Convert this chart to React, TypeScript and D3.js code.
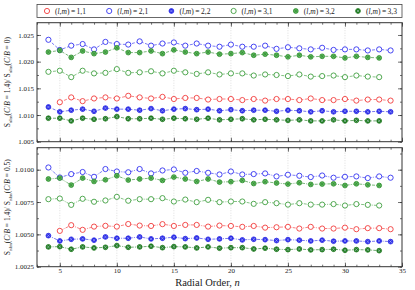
import React, { useEffect, useRef } from 'react'
import * as d3 from 'd3'

// radial order n, shared by every series
const radialOrder = [4, 5, 6, 7, 8, 9, 10, 11, 12, 13, 14, 15, 16, 17, 18, 19, 20, 21, 22, 23, 24, 25, 26, 27, 28, 29, 30, 31, 32, 33, 34]

// top panel: S(C/B=1.4) / S(C/B=0)
const topL1M1 = [null, 1.0124, 1.0133, 1.0126, 1.0131, 1.0133, 1.0131, 1.0136, 1.0133, 1.0131, 1.0134, 1.0130, 1.0132, 1.0132, 1.0129, 1.0130, 1.0130, 1.0128, 1.0130, 1.0127, 1.0130, 1.0130, 1.0128, 1.0131, 1.0128, 1.0128, 1.0130, 1.0127, 1.0129, 1.0129, 1.0127]
const topL2M1 = [1.0241, 1.0222, 1.0230, 1.0233, 1.0223, 1.0237, 1.0233, 1.0232, 1.0238, 1.0230, 1.0234, 1.0236, 1.0230, 1.0234, 1.0230, 1.0228, 1.0232, 1.0228, 1.0228, 1.0230, 1.0224, 1.0227, 1.0225, 1.0223, 1.0226, 1.0222, 1.0223, 1.0223, 1.0221, 1.0223, 1.0221]
const topL2M2 = [1.0115, 1.0106, 1.0109, 1.0111, 1.0107, 1.0113, 1.0111, 1.0111, 1.0109, 1.0112, 1.0108, 1.0111, 1.0112, 1.0110, 1.0111, 1.0108, 1.0110, 1.0108, 1.0109, 1.0109, 1.0107, 1.0109, 1.0108, 1.0106, 1.0108, 1.0106, 1.0107, 1.0107, 1.0106, 1.0107, 1.0106]
const topL3M1 = [1.0181, 1.0183, 1.0171, 1.0183, 1.0178, 1.0179, 1.0186, 1.0179, 1.0180, 1.0182, 1.0178, 1.0183, 1.0180, 1.0177, 1.0180, 1.0176, 1.0178, 1.0178, 1.0174, 1.0176, 1.0175, 1.0173, 1.0176, 1.0172, 1.0173, 1.0174, 1.0171, 1.0174, 1.0172, 1.0171, null]
const topL3M2 = [1.0218, 1.0221, 1.0208, 1.0220, 1.0215, 1.0218, 1.0226, 1.0217, 1.0217, 1.0220, 1.0215, 1.0222, 1.0218, 1.0215, 1.0218, 1.0214, 1.0215, 1.0217, 1.0212, 1.0214, 1.0212, 1.0209, 1.0212, 1.0209, 1.0210, 1.0210, 1.0207, 1.0210, 1.0208, 1.0207, null]
const topL3M3 = [1.0094, 1.0094, 1.0089, 1.0094, 1.0092, 1.0093, 1.0097, 1.0093, 1.0093, 1.0094, 1.0092, 1.0094, 1.0093, 1.0092, 1.0094, 1.0091, 1.0092, 1.0093, 1.0091, 1.0092, 1.0091, 1.0090, 1.0091, 1.0089, 1.0089, 1.0091, 1.0089, 1.0090, 1.0089, 1.0089, null]

// bottom panel: S(C/B=1.4) / S(C/B=0.5)
const botL1M1 = [null, 1.00527, 1.00571, 1.00535, 1.0056, 1.00566, 1.0056, 1.0058, 1.00568, 1.00565, 1.00579, 1.00565, 1.00573, 1.00573, 1.0056, 1.00568, 1.00565, 1.00558, 1.00565, 1.00552, 1.00555, 1.00558, 1.00545, 1.00558, 1.00545, 1.00545, 1.00552, 1.0054, 1.00548, 1.00548, 1.0054]
const botL2M1 = [1.01017, 1.0094, 1.00966, 1.00982, 1.00945, 1.01005, 1.00986, 1.0098, 1.01005, 1.00971, 1.00994, 1.01002, 1.00976, 1.0099, 1.00976, 1.00963, 1.00986, 1.00963, 1.00966, 1.00971, 1.00948, 1.00961, 1.00953, 1.00943, 1.00955, 1.00938, 1.00945, 1.00948, 1.00935, 1.00948, 1.00938]
const botL2M2 = [1.0049, 1.00449, 1.00462, 1.00465, 1.00455, 1.0048, 1.0047, 1.0047, 1.0048, 1.00465, 1.0047, 1.00478, 1.00467, 1.00472, 1.00462, 1.00465, 1.0047, 1.00457, 1.00462, 1.00459, 1.00452, 1.00459, 1.00455, 1.00449, 1.00455, 1.00447, 1.00449, 1.00449, 1.00444, 1.00449, 1.00444]
const botL3M1 = [1.00772, 1.00777, 1.00728, 1.00775, 1.00752, 1.00762, 1.0079, 1.0076, 1.00772, 1.00772, 1.0078, 1.00754, 1.00769, 1.00749, 1.00767, 1.00749, 1.00754, 1.00754, 1.00736, 1.00749, 1.00741, 1.0073, 1.00741, 1.0073, 1.0073, 1.00734, 1.00723, 1.00734, 1.00728, 1.00723, null]
const botL3M2 = [1.00928, 1.00935, 1.00881, 1.00935, 1.00909, 1.00922, 1.00953, 1.0092, 1.00928, 1.00935, 1.00917, 1.00943, 1.00928, 1.00909, 1.00928, 1.00904, 1.00907, 1.00917, 1.00893, 1.00907, 1.00897, 1.00889, 1.00899, 1.00886, 1.00889, 1.00891, 1.00878, 1.00891, 1.00883, 1.00878, null]
const botL3M3 = [1.00403, 1.00405, 1.00385, 1.00403, 1.00395, 1.004, 1.00413, 1.004, 1.00403, 1.00408, 1.00397, 1.00405, 1.00403, 1.00395, 1.00403, 1.00393, 1.00397, 1.00397, 1.00387, 1.00393, 1.00385, 1.00382, 1.00387, 1.0038, 1.00382, 1.00385, 1.00377, 1.00382, 1.0038, 1.00374, null]

const seriesLabels = ['1,1', '2,1', '2,2', '3,1', '3,2', '3,3']
const xTicks = [5, 10, 15, 20, 25, 30, 35]
const topYTicks = [1.005, 1.010, 1.015, 1.020, 1.025]
const botYTicks = [1.0025, 1.0050, 1.0075, 1.0100]

const WIDTH = 415
const HEIGHT = 290
const LEFT = 37
const RIGHT = 402
const SERIF = '"Liberation Serif", "DejaVu Serif", serif'

// marker style per series (same order as seriesLabels)
const styles = [
  { color: '#f23b3b', kind: 'open' },
  { color: '#3232f0', kind: 'open' },
  { color: '#2a2ae6', kind: 'blueHatch' },
  { color: '#3f9f3f', kind: 'open' },
  { color: '#2f8f2f', kind: 'greenX' },
  { color: '#1f7a1f', kind: 'greenFill' },
]

const drawMarker = (g, x, y, style, r = 2.6) => {
  const c = style.color
  if (style.kind === 'open') {
    g.append('circle').attr('cx', x).attr('cy', y).attr('r', r)
      .attr('fill', 'white').attr('stroke', c).attr('stroke-width', 0.9)
    return
  }
  const fill = style.kind === 'greenX' ? '#5cb85c' : c
  const cross = style.kind === 'greenX' ? '#1d6b1d' : '#d8e8ff'
  g.append('circle').attr('cx', x).attr('cy', y).attr('r', r - 0.2)
    .attr('fill', fill).attr('stroke', c).attr('stroke-width', 0.8)
  const k = (r - 0.7) * 0.7
  g.append('path')
    .attr('d', `M${x - k},${y - k}L${x + k},${y + k}M${x - k},${y + k}L${x + k},${y - k}`)
    .attr('stroke', cross).attr('stroke-width', 0.55).attr('opacity', 0.8)
}

const App = () => {
  const ref = useRef(null)

  useEffect(() => {
    const svg = d3.select(ref.current)
    svg.selectAll('*').remove()

    const x = d3.scaleLinear().domain([3, 35]).range([LEFT, RIGHT])

    const panels = [
      {
        top: 22.7, bottom: 141.7, domain: [1.005, 1.0273], ticks: topYTicks, fmt: d3.format('.3f'),
        values: [topL1M1, topL2M1, topL2M2, topL3M1, topL3M2, topL3M3], dash: '3,1.6', xLabels: false,
        ylabelRest: ' = 0)',
      },
      {
        top: 147.7, bottom: 266.7, domain: [1.0025, 1.0117], ticks: botYTicks, fmt: d3.format('.4f'),
        values: [botL1M1, botL2M1, botL2M2, botL3M1, botL3M2, botL3M3], dash: '3,1.2,1,1.2', xLabels: true,
        ylabelRest: ' = 0.5)',
      },
    ]

    panels.forEach(p => {
      const y = d3.scaleLinear().domain(p.domain).range([p.bottom, p.top])
      const g = svg.append('g')
      const step = p.ticks[1] - p.ticks[0]
      const minorY = d3.range(p.ticks[0] - step, p.domain[1], step / 2)
        .filter(v => v >= p.domain[0] - 1e-9 && v <= p.domain[1])
      const minorX = d3.range(3, 36, 1)

      // vertical dotted grid at major x ticks
      g.selectAll('.grid').data(xTicks.filter(t => t < 35)).enter().append('line')
        .attr('x1', d => x(d)).attr('x2', d => x(d)).attr('y1', p.top).attr('y2', p.bottom)
        .attr('stroke', '#c8c8c8').attr('stroke-width', 0.6).attr('stroke-dasharray', '1,1.5')

      // lines
      p.values.forEach((vals, i) => {
        const pts = radialOrder.map((n, j) => ({ n, v: vals[j] }))
        const line = d3.line().defined(d => d.v != null).x(d => x(d.n)).y(d => y(d.v))
        g.append('path').attr('d', line(pts)).attr('fill', 'none')
          .attr('stroke', styles[i].color).attr('stroke-width', 0.8).attr('opacity', 0.8)
          .attr('stroke-dasharray', p.dash)
      })
      // markers
      p.values.forEach((vals, i) => {
        radialOrder.forEach((n, j) => {
          if (vals[j] == null) return
          drawMarker(g, x(n), y(vals[j]), styles[i])
        })
      })

      // axes with inward ticks on all sides
      const axes = [
        { a: d3.axisLeft(y).tickValues(p.ticks).tickFormat(p.fmt).tickSize(-4).tickPadding(3), t: `translate(${LEFT},0)` },
        { a: d3.axisLeft(y).tickValues(minorY).tickFormat(() => '').tickSize(-2), t: `translate(${LEFT},0)` },
        { a: d3.axisRight(y).tickValues(p.ticks).tickFormat(() => '').tickSize(-4), t: `translate(${RIGHT},0)` },
        { a: d3.axisRight(y).tickValues(minorY).tickFormat(() => '').tickSize(-2), t: `translate(${RIGHT},0)` },
        { a: d3.axisBottom(x).tickValues(xTicks).tickFormat(p.xLabels ? d3.format('d') : () => '').tickSize(-4).tickPadding(1), t: `translate(0,${p.bottom})` },
        { a: d3.axisBottom(x).tickValues(minorX).tickFormat(() => '').tickSize(-2), t: `translate(0,${p.bottom})` },
        { a: d3.axisTop(x).tickValues(xTicks).tickFormat(() => '').tickSize(-4), t: `translate(0,${p.top})` },
        { a: d3.axisTop(x).tickValues(minorX).tickFormat(() => '').tickSize(-2), t: `translate(0,${p.top})` },
      ]
      axes.forEach(({ a, t }) => {
        const ag = g.append('g').attr('transform', t).call(a)
        ag.select('.domain').remove()
        ag.selectAll('line').attr('stroke', '#333').attr('stroke-width', 0.7)
        ag.selectAll('text').attr('font-family', SERIF).attr('font-size', 7).attr('fill', '#222')
      })

      g.append('rect').attr('x', LEFT).attr('y', p.top).attr('width', RIGHT - LEFT).attr('height', p.bottom - p.top)
        .attr('fill', 'none').attr('stroke', '#333').attr('stroke-width', 1)

      // y label
      const yl = g.append('text')
        .attr('transform', `translate(10,${(p.top + p.bottom) / 2}) rotate(-90)`)
        .attr('text-anchor', 'middle').attr('font-family', SERIF).attr('font-size', 7.5).attr('fill', '#222')
      const part = rest => {
        yl.append('tspan').text('S')
        yl.append('tspan').attr('font-size', 5).attr('dy', 1.5).text('nlm')
        yl.append('tspan').attr('dy', -1.5).text('(')
        yl.append('tspan').attr('font-style', 'italic').text('C')
        yl.append('tspan').text('/')
        yl.append('tspan').attr('font-style', 'italic').text('B')
        yl.append('tspan').text(rest)
      }
      part(' = 1.4)/ ')
      part(p.ylabelRest)
    })

    // legend
    const lg = svg.append('g')
    lg.append('rect').attr('x', LEFT).attr('y', 4.5).attr('width', RIGHT - LEFT).attr('height', 13)
      .attr('fill', 'white').attr('stroke', '#444').attr('stroke-width', 0.8)
    const lx = d3.scaleLinear().domain([0, seriesLabels.length - 1]).range([47, 358])
    seriesLabels.forEach((lab, i) => {
      drawMarker(lg, lx(i), 11, styles[i], 2.6)
      const t = lg.append('text').attr('x', lx(i) + 8).attr('y', 13.5)
        .attr('font-family', SERIF).attr('font-size', 7.5).attr('fill', '#222')
      t.append('tspan').text('(')
      t.append('tspan').attr('font-style', 'italic').text('l')
      t.append('tspan').text(',')
      t.append('tspan').attr('font-style', 'italic').text('m')
      t.append('tspan').text(`)\u2009=\u2009${lab}`)
    })

    // x label
    const xl = svg.append('text').attr('x', WIDTH / 2).attr('y', 286).attr('text-anchor', 'middle')
      .attr('font-family', SERIF).attr('font-size', 10.5).attr('fill', '#222')
    xl.append('tspan').text('Radial Order, ')
    xl.append('tspan').attr('font-style', 'italic').text('n')
  }, [])

  return (
    <div style={{ position: 'absolute', left: 0, top: 0 }}>
      <svg ref={ref} width={WIDTH} height={HEIGHT} style={{ display: 'block', background: 'white' }}></svg>
    </div>
  )
}

export default App
